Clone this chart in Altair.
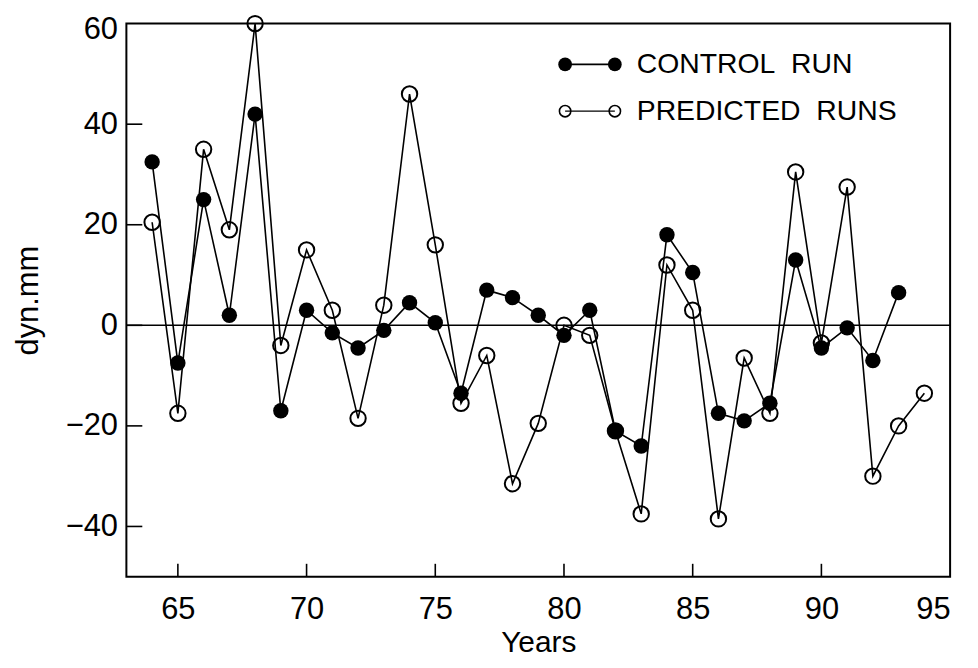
import altair as alt
import pandas as pd

# ---- data ----
control_years = list(range(64, 94))
control_values = [32.5, -7.5, 25, 2, 42, -17, 3, -1.5, -4.5, -1, 4.5, 0.5, -13.5, 7, 5.5,
                  2, -2, 3, -21, -24, 18, 10.5, -17.5, -19, -15.5, 13, -4.5, -0.5, -7, 6.5]
pred_years = list(range(64, 95))
pred_values = [20.5, -17.5, 35, 19, 60, -4, 15, 3, -18.5, 4, 46, 16, -15.5, -6, -31.5,
               -19.5, 0, -2, -21, -37.5, 12, 3, -38.5, -6.5, -17.5, 30.5, -3.5, 27.5, -30, -20, -13.5]
x_ticks = [65, 70, 75, 80, 85, 90, 95]
y_ticks = [-40, -20, 0, 20, 40, 60]
legend_labels = ["CONTROL\u00a0 RUN", "PREDICTED\u00a0 RUNS"]

W, H = 828, 556
FONT = "Liberation Sans"

ctrl = pd.DataFrame({"year": control_years, "value": control_values})
pred = pd.DataFrame({"year": pred_years, "value": pred_values})

xs = alt.Scale(domain=[63, 95], nice=False, zero=False)
ys = alt.Scale(domain=[-50, 60], nice=False, zero=False)

x_axis = alt.Axis(values=x_ticks, ticks=False, domain=False, grid=False, labelFontSize=31,
                  labelPadding=18, title="Years", titleFontSize=30, titleFontWeight="normal",
                  titlePadding=3, labelFont=FONT, titleFont=FONT, labelColor="black", titleColor="black")
y_axis = alt.Axis(values=y_ticks, ticks=False, domain=False, grid=False, labelFontSize=31,
                  labelPadding=9, labelFlush=True, labelFlushOffset=9,
                  title="dyn.mm", titleFontSize=31, titleFontWeight="normal",
                  titlePadding=21, labelFont=FONT, titleFont=FONT, labelColor="black", titleColor="black")

base_line = alt.Chart(ctrl).mark_line(color="black", strokeWidth=1.6).encode(
    x=alt.X("year:Q", scale=xs, axis=x_axis),
    y=alt.Y("value:Q", scale=ys, axis=y_axis),
)
ctrl_pts = alt.Chart(ctrl).mark_point(shape="circle", filled=True, color="black", size=240, opacity=1).encode(
    x="year:Q", y="value:Q")
pred_line = alt.Chart(pred).mark_line(color="black", strokeWidth=1.6).encode(x="year:Q", y="value:Q")
pred_pts = alt.Chart(pred).mark_point(shape="circle", filled=False, color="black", size=240,
                                      strokeWidth=2, opacity=1).encode(x="year:Q", y="value:Q")

zero = alt.Chart(pd.DataFrame({"v": [0]})).mark_rule(color="black", strokeWidth=1.6).encode(y="v:Q")

xt = alt.Chart(pd.DataFrame({"t": x_ticks[:-1]})).mark_rule(color="black", strokeWidth=1.6).encode(
    x="t:Q", y=alt.value(H), y2=alt.value(H - 13))
yt = alt.Chart(pd.DataFrame({"t": y_ticks[:-1]})).mark_rule(color="black", strokeWidth=1.6).encode(
    y="t:Q", x=alt.value(0), x2=alt.value(16))

# legend (inside plot, top right)
lx1, lx2, ltx = 441, 491, 513
row1, row2 = 41, 88
leg1 = pd.DataFrame({"label": [legend_labels[0]]})
leg2 = pd.DataFrame({"label": [legend_labels[1]]})
l1_rule = alt.Chart(leg1).mark_rule(color="black", strokeWidth=1.6).encode(
    x=alt.value(lx1), x2=alt.value(lx2), y=alt.value(row1))
l1_a = alt.Chart(leg1).mark_point(shape="circle", filled=True, color="black", size=190, opacity=1).encode(
    x=alt.value(lx1), y=alt.value(row1))
l1_b = alt.Chart(leg1).mark_point(shape="circle", filled=True, color="black", size=190, opacity=1).encode(
    x=alt.value(lx2), y=alt.value(row1))
l1_t = alt.Chart(leg1).mark_text(align="left", baseline="middle", fontSize=28.5, font=FONT, color="black").encode(
    x=alt.value(ltx), y=alt.value(row1), text="label:N")
l2_rule = alt.Chart(leg2).mark_rule(color="black", strokeWidth=1.4).encode(
    x=alt.value(lx1), x2=alt.value(lx2), y=alt.value(row2))
l2_a = alt.Chart(leg2).mark_point(shape="circle", filled=False, color="black", size=130, strokeWidth=1.6, opacity=1).encode(
    x=alt.value(lx1), y=alt.value(row2))
l2_b = alt.Chart(leg2).mark_point(shape="circle", filled=False, color="black", size=130, strokeWidth=1.6, opacity=1).encode(
    x=alt.value(lx2), y=alt.value(row2))
l2_t = alt.Chart(leg2).mark_text(align="left", baseline="middle", fontSize=28.5, font=FONT, color="black").encode(
    x=alt.value(ltx), y=alt.value(row2), text="label:N")

chart = alt.layer(
    base_line, zero, xt, yt, pred_line, ctrl_pts, pred_pts,
    l1_rule, l1_a, l1_b, l1_t, l2_rule, l2_a, l2_b, l2_t,
).properties(
    width=W, height=H,
    autosize=alt.AutoSizeParams(type="none"),
    padding={"left": 119, "top": 14, "right": 20, "bottom": 82},
    background="white",
).configure_view(stroke="black", strokeWidth=2)

chart.save("out.html", embed_options={"renderer": "svg", "actions": False})
